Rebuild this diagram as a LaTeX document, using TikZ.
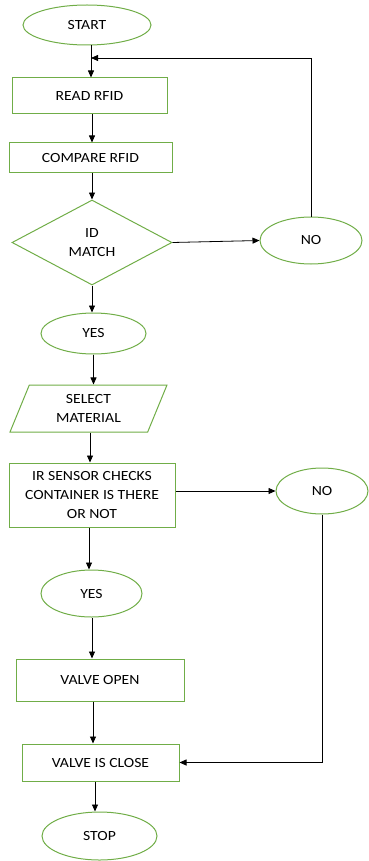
\documentclass[tikz,border=0pt]{standalone}
\usepackage{fontspec}
\setmainfont{Carlito}[FakeStretch=1.12]
\usetikzlibrary{shapes.geometric,arrows.meta}
\definecolor{fgreen}{HTML}{70AD47}
\begin{document}
\begin{tikzpicture}[x=1pt,y=-1pt,
  txt/.style={font=\fontsize{14}{18.5}\selectfont, align=center, text=black},
  box/.style={txt, draw=fgreen, line width=1pt, rectangle, inner sep=0pt},
  oval/.style={txt, draw=fgreen, line width=1pt, ellipse, inner sep=0pt},
  decide/.style={txt, draw=fgreen, line width=1pt, diamond, inner sep=0pt},
  iobox/.style={txt, draw=fgreen, line width=1pt, trapezium, trapezium left angle=55,
      trapezium right angle=125, trapezium stretches body, inner sep=0pt},
  arr/.style={draw=black, line width=0.8pt, -{Triangle[length=7pt,width=6pt]}},
  ln/.style={draw=black, line width=0.8pt}]
\useasboundingbox (0,0) rectangle (369,861);

\node[oval, minimum width=128pt, minimum height=40pt] (start) at (87,25) {START};
\node[box, minimum width=155pt, minimum height=36pt] (read) at (89.5,96) {READ RFID};
\node[box, minimum width=163pt, minimum height=30pt] (cmp) at (90.5,158) {COMPARE RFID};
\node[decide, minimum width=160pt, minimum height=85pt] (idm) at (92,242.5) {ID\\MATCH};
\node[oval, minimum width=102pt, minimum height=47pt] (no1) at (311,240.5) {NO};
\node[oval, minimum width=105pt, minimum height=41pt] (yes1) at (93.5,333.5) {YES};
\node[iobox, minimum width=157pt, minimum height=47pt] (sel) at (88.5,408.5) {SELECT\\MATERIAL};
\node[box, minimum width=166pt, minimum height=64pt] (ir) at (92,495) {IR SENSOR CHECKS\\CONTAINER IS THERE\\OR NOT};
\node[oval, minimum width=92pt, minimum height=46pt] (no2) at (322,491) {NO};
\node[oval, minimum width=101pt, minimum height=47pt] (yes2) at (91.5,593.5) {YES};
\node[box, minimum width=168pt, minimum height=42pt] (vo) at (100,680) {VALVE OPEN};
\node[box, minimum width=157pt, minimum height=37pt] (vc) at (100.5,762.5) {VALVE IS CLOSE};
\node[oval, minimum width=115pt, minimum height=48pt] (stop) at (99.5,836) {STOP};

\coordinate (j1) at (91,58);

\draw[arr] (start.south -| j1) -- (read.north -| j1);
\draw[arr] (read.south -| 92,0) -- (cmp.north -| 92,0);
\draw[arr] (cmp.south -| 92,0) -- (idm.north);
\draw[arr] (idm.east) -- (no1.west);
\draw[arr] (no1.north) |- (j1);
\draw[arr] (idm.south) -- (yes1.north -| idm.south);
\draw[arr] (yes1.south) -- (sel.north -| yes1.south);
\draw[arr] (sel.south -| 90,0) -- (ir.north -| 90,0);
\draw[arr] (ir.east |- no2.west) -- (no2.west);
\draw[arr] (ir.south -| 89,0) -- (yes2.north -| 89,0);
\draw[arr] (yes2.south -| 92,0) -- (vo.north -| 92,0);
\draw[arr] (vo.south -| 93,0) -- (vc.north -| 93,0);
\draw[arr] (vc.south -| 95,0) -- (stop.north -| 95,0);
\draw[arr] (no2.south) |- (vc.east);
\end{tikzpicture}
\end{document}
